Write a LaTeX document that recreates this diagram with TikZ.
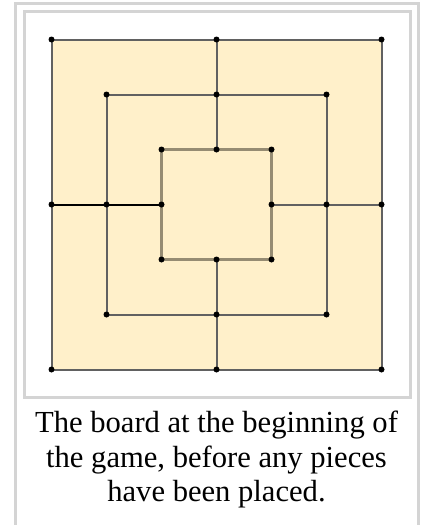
\documentclass[tikz,border=0pt]{standalone}
\usepackage{fontspec}
\newfontfamily\fa{Liberation Serif}
\definecolor{boardfill}{RGB}{255,240,202}
\definecolor{framegray}{RGB}{212,212,212}
\definecolor{innerline}{RGB}{150,140,115}
\begin{document}
\begin{tikzpicture}[x=1pt,y=-1pt,
  frame/.style={draw=framegray, line width=3pt},
  boardline/.style={draw=black!62, line width=2pt},
  innersq/.style={draw=innerline, line width=2.2pt},
  darkline/.style={draw=black, line width=2pt},
  dot/.style={fill=black}]
\useasboundingbox (0,0) rectangle (422,525);
% frames
\draw[frame] (15.5,530) -- (15.5,3.5) -- (418.5,3.5) -- (418.5,530);
\draw[frame] (24.5,11.5) rectangle (410.5,397.5);
% board points
\foreach \r/\h in {o/165,m/110,i/55} {
  \coordinate (\r-tl) at (216.5-\h,204.5-\h);
  \coordinate (\r-t)  at (216.5,204.5-\h);
  \coordinate (\r-tr) at (216.5+\h,204.5-\h);
  \coordinate (\r-r)  at (216.5+\h,204.5);
  \coordinate (\r-br) at (216.5+\h,204.5+\h);
  \coordinate (\r-b)  at (216.5,204.5+\h);
  \coordinate (\r-bl) at (216.5-\h,204.5+\h);
  \coordinate (\r-l)  at (216.5-\h,204.5);
}
\fill[boardfill] (o-tl) rectangle (o-br);
\draw[boardline] (o-tl) -- (o-t) -- (o-tr) -- (o-r) -- (o-br) -- (o-b) -- (o-bl) -- (o-l) -- cycle;
\draw[boardline] (m-tl) -- (m-t) -- (m-tr) -- (m-r) -- (m-br) -- (m-b) -- (m-bl) -- (m-l) -- cycle;
\draw[innersq] (i-tl) -- (i-t) -- (i-tr) -- (i-r) -- (i-br) -- (i-b) -- (i-bl) -- (i-l) -- cycle;
\draw[boardline] (o-t) -- (m-t) -- (i-t);
\draw[boardline] (o-b) -- (m-b) -- (i-b);
\draw[boardline] (o-r) -- (m-r) -- (i-r);
\draw[darkline] (o-l) -- (m-l) -- (i-l);
\foreach \r in {o,m,i} {
  \foreach \p in {tl,t,tr,r,br,b,bl,l} {
    \fill[dot] (\r-\p) circle (3pt);
  }
}
% caption
\node[anchor=base,font=\fa\fontsize{30.6}{35}\selectfont] (cap1) at (216.5,432) {The board at the beginning of};
\node[anchor=base,font=\fa\fontsize{30.6}{35}\selectfont] (cap2) at (216.5,467) {the game, before any pieces};
\node[anchor=base,font=\fa\fontsize{30.6}{35}\selectfont] (cap3) at (216.5,501) {have been placed.};
\end{tikzpicture}
\end{document}
